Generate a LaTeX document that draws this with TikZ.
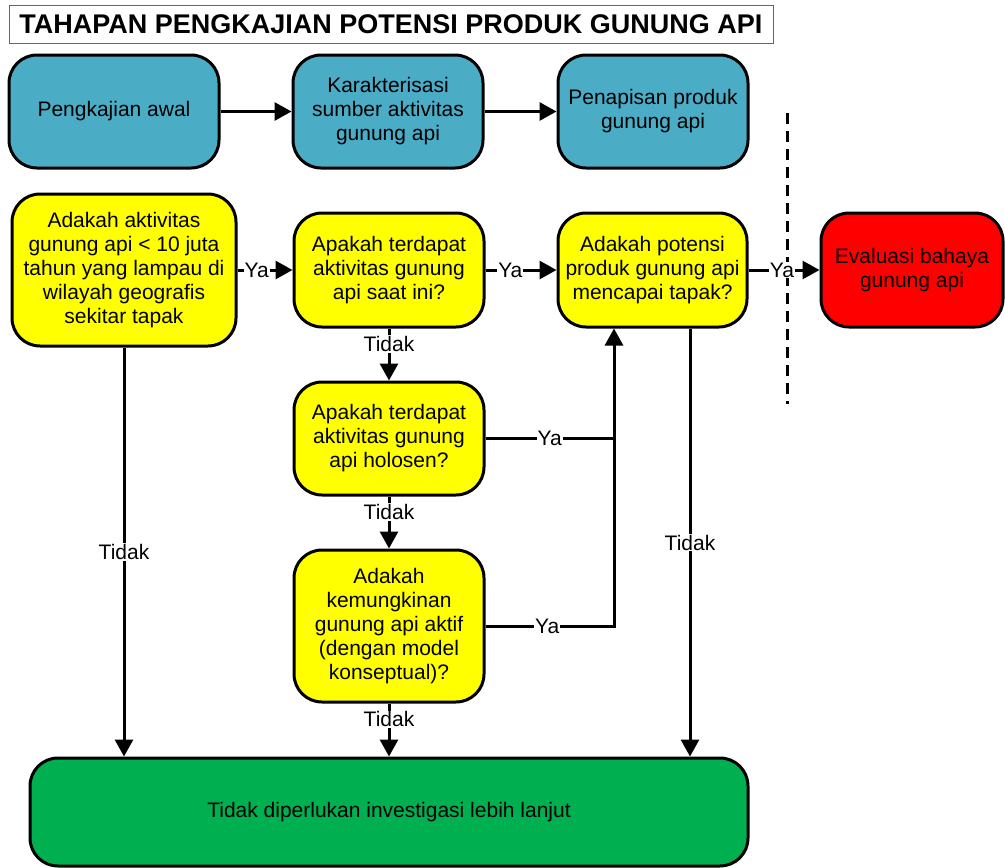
\documentclass[tikz,border=0pt]{standalone}
\usepackage{fontspec}
\setmainfont{Liberation Sans}
\usetikzlibrary{arrows.meta,calc}
\definecolor{cblue}{HTML}{4BACC6}
\definecolor{cyellow}{HTML}{FFFF00}
\definecolor{cred}{HTML}{FF0000}
\definecolor{cgreen}{HTML}{00B050}
\begin{document}
\begin{tikzpicture}[x=1pt,y=-1pt,
  box/.style={draw=black, line width=3pt, rounded corners=28pt, align=center, inner sep=0pt,
    font=\fontsize{21}{24}\selectfont},
  bluebox/.style={box, fill=cblue},
  yelbox/.style={box, fill=cyellow},
  redbox/.style={box, fill=cred},
  greenbox/.style={box, fill=cgreen},
  arr/.style={line width=3pt, -{Triangle[length=17pt,width=18pt]}},
  ln/.style={line width=3pt},
  lbl/.style={fill=white, inner sep=1pt, font=\fontsize{21}{24}\selectfont}]
\useasboundingbox (0,0) rectangle (1005,868);

% title
\node[draw=gray!80!black, line width=1pt, minimum width=764pt, minimum height=38pt, inner sep=0pt,
  font=\fontsize{27}{30}\selectfont\bfseries] (title) at (391,24) {TAHAPAN PENGKAJIAN POTENSI PRODUK GUNUNG API};

% top row
\node[bluebox, minimum width=210pt, minimum height=113pt] (b1) at (114,111.5) {Pengkajian awal};
\node[bluebox, minimum width=190pt, minimum height=113pt] (b2) at (388,111.5) {Karakterisasi\\sumber aktivitas\\gunung api};
\node[bluebox, minimum width=190pt, minimum height=113pt] (b3) at (653,111.5) {Penapisan produk\\gunung api};
\draw[arr] (b1) -- (b2);
\draw[arr] (b2) -- (b3);

% dashed separator
\coordinate (dtop) at (787,113);
\coordinate (dbot) at (787,404);
\draw[line width=3pt, dash pattern=on 11pt off 7pt] (dtop) -- (dbot);

% decision row
\node[yelbox, minimum width=224pt, minimum height=152pt] (y1) at (124,270) {Adakah aktivitas\\gunung api < 10 juta\\tahun yang lampau di\\wilayah geografis\\sekitar tapak};
\node[yelbox, minimum width=190pt, minimum height=114pt] (y2) at (389,270) {Apakah terdapat\\aktivitas gunung\\api saat ini?};
\node[yelbox, minimum width=189pt, minimum height=114pt] (y3) at (652.5,270) {Adakah potensi\\produk gunung api\\mencapai tapak?};
\node[redbox, minimum width=182pt, minimum height=114pt] (r1) at (912,270) {Evaluasi bahaya\\gunung api};
\node[yelbox, minimum width=190pt, minimum height=113pt] (y4) at (389,438.5) {Apakah terdapat\\aktivitas gunung\\api holosen?};
\node[yelbox, minimum width=190pt, minimum height=152pt] (y5) at (389,626) {Adakah\\kemungkinan\\gunung api aktif\\(dengan model\\konseptual)?};
\node[greenbox, minimum width=718pt, minimum height=108pt] (g) at (389,812) {Tidak diperlukan investigasi lebih lanjut};

% Ya arrows
\draw[arr] (y1) -- node[lbl, pos=0.35] {Ya} (y2);
\draw[arr] (y2) -- node[lbl, pos=0.35] {Ya} (y3);
\draw[arr] (y3) -- node[lbl, pos=0.47] {Ya} (r1);

% Tidak arrows
\draw[arr] (y1.south) -- node[lbl, pos=0.5] {Tidak} (y1.south |- g.north);
\draw[arr] (y2) -- node[lbl, pos=0.3] {Tidak} (y4);
\draw[arr] (y4) -- node[lbl, pos=0.3] {Tidak} (y5);
\draw[arr] (y5) -- node[lbl, pos=0.3] {Tidak} (g);
\coordinate (rd) at ([xshift=37.5pt]y3.south);
\draw[arr] (rd) -- node[lbl, pos=0.5] {Tidak} (rd |- g.north);

% Ya returns
\coordinate (up) at ([xshift=-38.5pt]y3.south);
\draw[arr] (y5.east) -- node[lbl, pos=0.48] {Ya} (y5.east -| up) -- (up);
\draw[ln] (y4.east) -- node[lbl, pos=0.5] {Ya} (y4.east -| up);
\end{tikzpicture}
\end{document}
